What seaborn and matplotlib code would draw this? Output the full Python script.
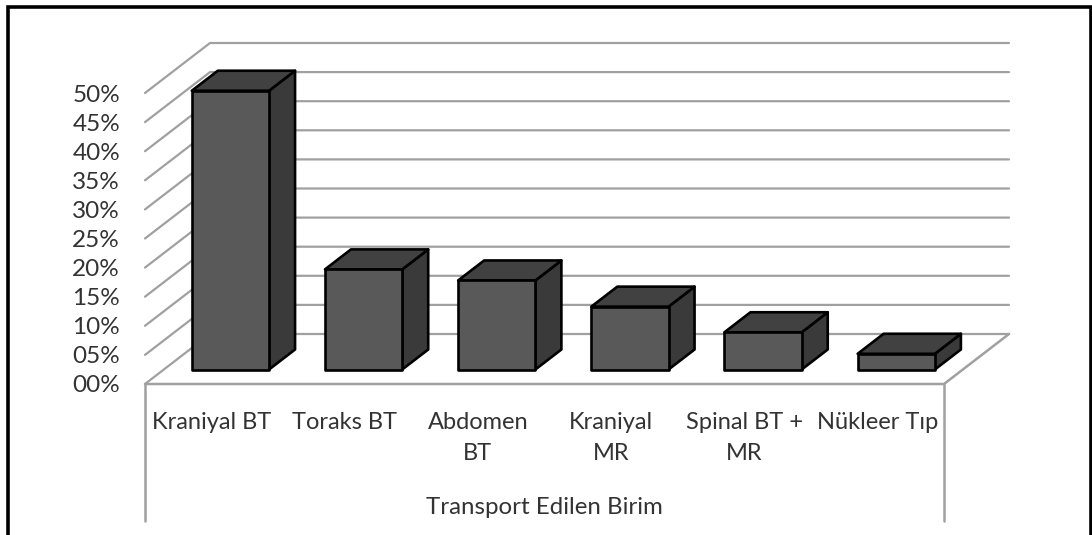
import matplotlib
matplotlib.use("Agg")
import matplotlib.pyplot as plt
import seaborn as sns
import pandas as pd
from matplotlib.patches import Polygon
from matplotlib.lines import Line2D

categories = ["Kraniyal BT", "Toraks BT", "Abdomen\nBT", "Kraniyal\nMR", "Spinal BT +\nMR", "Nükleer Tıp"]
values = [47.9, 17.2, 15.3, 10.8, 6.4, 2.7]
y_ticks = list(range(0, 55, 5))
y_labels = [f"{v:02d}%" for v in y_ticks]
x_title = "Transport Edilen Birim"

W, H = 1092, 535
sns.set_theme(style="white")
plt.rcParams["font.family"] = ["Lato", "DejaVu Sans"]
TXT = "#333333"
GRID = "#a0a0a0"

fig = plt.figure(figsize=(W / 100, H / 100), dpi=100, facecolor="white")
ax = fig.add_axes([145 / W, (H - 384) / H, 799 / W, 291 / H])

df = pd.DataFrame({"birim": categories, "oran": values})
sns.barplot(data=df, x="birim", y="oran", ax=ax, width=0.58, color="#595959",
            saturation=1, edgecolor="black", linewidth=1.9, zorder=4)
ax.set_xlim(-0.5, 5.5)
ax.set_ylim(0, 50)
ax.patch.set_alpha(0)
for s in ax.spines.values():
    s.set_visible(False)

# oblique projection of the chart's depth axis, in data units
DX = 65 / (799 / 6)
DY = 50 * 50 / 291


def proj(x, y, d):
    return (x + d * DX, y + d * DY)


# walls and floor
for v in y_ticks:
    ax.plot(*zip(proj(-0.5, v, 0), proj(-0.5, v, 1), proj(5.5, v, 1)),
            color=GRID, lw=1.6, clip_on=False, zorder=1)
ax.plot(*zip(proj(-0.5, 0, 0), proj(5.5, 0, 0), proj(5.5, 0, 1)),
        color=GRID, lw=1.8, clip_on=False, zorder=1)

# extruded bars
D0, D1 = 0.29, 0.69
for bar in ax.patches:
    x0, w, h = bar.get_x(), bar.get_width(), bar.get_height()
    x1 = x0 + w
    side = [proj(x1, 0, D0), proj(x1, 0, D1), proj(x1, h, D1), proj(x1, h, D0)]
    top = [proj(x0, h, D0), proj(x1, h, D0), proj(x1, h, D1), proj(x0, h, D1)]
    for pts, col in ((side, "#3a3a3a"), (top, "#414141")):
        ax.add_patch(Polygon(pts, closed=True, facecolor=col, edgecolor="black",
                             lw=1.9, joinstyle="round", clip_on=False, zorder=3))
    bar.set_x(x0 + D0 * DX)
    bar.set_y(D0 * DY)
    bar.set_clip_on(False)
    bar.set_joinstyle("round")

# category separators below the plot
trans = ax.get_xaxis_transform()
for x in (-0.5, 5.5):
    ax.plot([x, x], [0, -137 / 291], transform=trans, color=GRID, lw=1.8,
            clip_on=False, zorder=1)

ax.set_yticks(y_ticks, y_labels)
ax.set_xticks(range(len(categories)), categories, linespacing=1.6)
ax.tick_params(axis="y", length=0, pad=18, labelsize=17.5, labelcolor=TXT)
ax.tick_params(axis="x", length=0, pad=20, labelsize=17, labelcolor=TXT)
ax.set_ylabel("")
ax.set_xlabel(x_title, fontsize=17.3, color=TXT)
ax.xaxis.set_label_coords(0.5, -0.424)
ax.xaxis.label.set_verticalalignment("center")

# picture frame
fig.add_artist(Line2D([7.5 / W, 7.5 / W, 1090.5 / W, 1090.5 / W],
                      [0, (H - 7) / H, (H - 7) / H, 0],
                      color="black", lw=2.6, solid_joinstyle="miter"))

fig.savefig("out.png", dpi=100, facecolor="white")
